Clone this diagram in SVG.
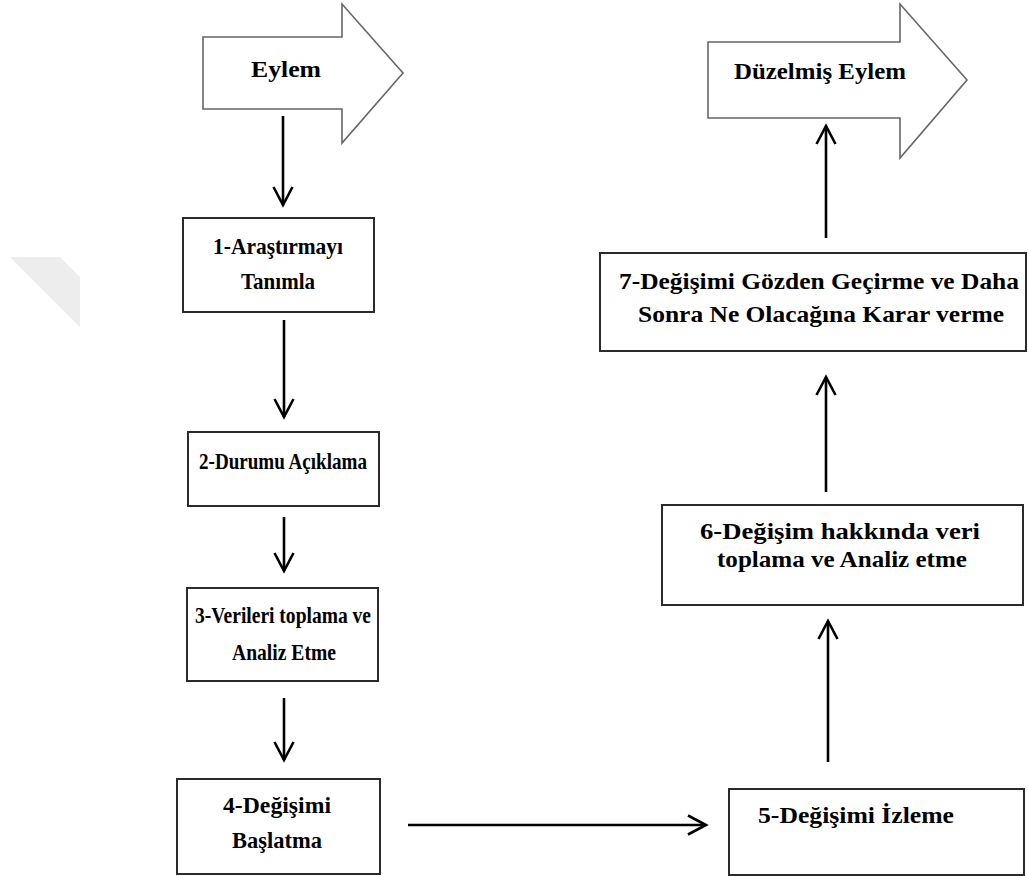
<svg xmlns="http://www.w3.org/2000/svg" width="1028" height="876" viewBox="0 0 1028 876">
<style>
.box{fill:#fff;stroke:#2b2b2b;stroke-width:2}
.big{fill:#fff;stroke:#666;stroke-width:1.6;stroke-linejoin:miter}
.t{font-family:"Liberation Serif","Times New Roman",serif;font-weight:bold;font-size:24px;fill:#000;text-anchor:middle}
.s{font-size:23px}
.c{stroke:#000;stroke-width:2.6;fill:none}
</style>
<defs>
<marker id="ah" markerUnits="userSpaceOnUse" markerWidth="24" markerHeight="24" viewBox="-20 -12 24 24" refX="0" refY="0" orient="auto">
<path d="M-18,-9.5 L0,0 L-18,9.5" fill="none" stroke="#000" stroke-width="2.6"/>
</marker>
</defs>
<rect width="1028" height="876" fill="#fff"/>
<polygon points="10,257 60,257 80,277 80,327" fill="#ededed"/>
<g id="eylem">
<polygon class="big" points="203,37 342,37 342,4 403,73 342,143 342,109 203,109"/>
<text class="t" x="286" y="77" textLength="70" lengthAdjust="spacingAndGlyphs">Eylem</text>
</g>
<g id="duzelmis">
<polygon class="big" points="708,42 900,42 900,4 967,80 900,158 900,118 708,118"/>
<text class="t" x="820" y="79" textLength="172" lengthAdjust="spacingAndGlyphs">Düzelmiş Eylem</text>
</g>
<g id="n1">
<rect class="box" x="183" y="218" width="191" height="94"/>
<text class="t s" x="278" y="254" textLength="130" lengthAdjust="spacingAndGlyphs">1-Araştırmayı</text>
<text class="t s" x="278" y="289" textLength="74" lengthAdjust="spacingAndGlyphs">Tanımla</text>
</g>
<g id="n2">
<rect class="box" x="188" y="432" width="191" height="74"/>
<text class="t s" x="283" y="469" textLength="168" lengthAdjust="spacingAndGlyphs">2-Durumu Açıklama</text>
</g>
<g id="n3">
<rect class="box" x="187" y="588" width="191" height="93"/>
<text class="t s" x="283" y="623" textLength="176" lengthAdjust="spacingAndGlyphs">3-Verileri toplama ve</text>
<text class="t s" x="284" y="660" textLength="104" lengthAdjust="spacingAndGlyphs">Analiz Etme</text>
</g>
<g id="n4">
<rect class="box" x="177" y="779" width="203" height="95"/>
<text class="t s" x="277" y="813" textLength="108" lengthAdjust="spacingAndGlyphs">4-Değişimi</text>
<text class="t s" x="277" y="848" textLength="90" lengthAdjust="spacingAndGlyphs">Başlatma</text>
</g>
<g id="n5">
<rect class="box" x="729" y="789" width="295" height="86"/>
<text class="t" x="856" y="823" textLength="196" lengthAdjust="spacingAndGlyphs">5-Değişimi İzleme</text>
</g>
<g id="n6">
<rect class="box" x="662" y="505" width="361" height="100"/>
<text class="t" x="840" y="539" textLength="280" lengthAdjust="spacingAndGlyphs">6-Değişim hakkında veri</text>
<text class="t" x="842" y="567" textLength="250" lengthAdjust="spacingAndGlyphs">toplama ve Analiz etme</text>
</g>
<g id="n7">
<rect class="box" x="600" y="253" width="426" height="98"/>
<text class="t" x="819" y="289" textLength="400" lengthAdjust="spacingAndGlyphs">7-Değişimi Gözden Geçirme ve Daha</text>
<text class="t" x="821" y="322" textLength="366" lengthAdjust="spacingAndGlyphs">Sonra Ne Olacağına Karar verme</text>
</g>
<g id="connectors">
<line class="c" x1="283" y1="116" x2="283" y2="205" marker-end="url(#ah)"/>
<line class="c" x1="284" y1="320" x2="284" y2="417" marker-end="url(#ah)"/>
<line class="c" x1="284" y1="517" x2="284" y2="571" marker-end="url(#ah)"/>
<line class="c" x1="284" y1="698" x2="284" y2="760" marker-end="url(#ah)"/>
<line class="c" x1="408" y1="825" x2="706" y2="825" marker-end="url(#ah)"/>
<line class="c" x1="828" y1="762" x2="828" y2="621" marker-end="url(#ah)"/>
<line class="c" x1="826" y1="492" x2="826" y2="377" marker-end="url(#ah)"/>
<line class="c" x1="826" y1="238" x2="826" y2="126" marker-end="url(#ah)"/>
</g>
</svg>
